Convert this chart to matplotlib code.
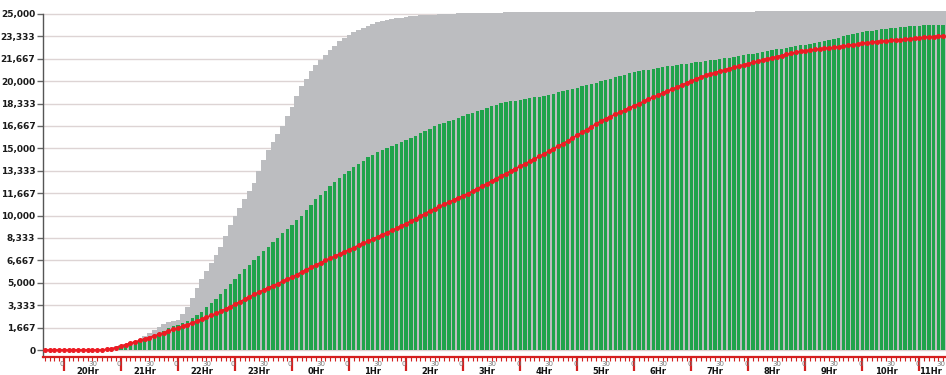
import numpy as np
import matplotlib
matplotlib.use("Agg")
import matplotlib.pyplot as plt

# 5-minute samples starting 19:40, one row per hour
upper_cum = [
    0, 0, 0, 0, 0, 0, 0, 0, 0, 0, 0, 0,
    0, 50, 150, 280, 380, 480, 580, 680, 850, 1050, 1300, 1500,
    1700, 1900, 2050, 2150, 2250, 2700, 3200, 3900, 4600, 5300, 5900, 6500,
    7100, 7700, 8500, 9300, 10000, 10600, 11200, 11800, 12400, 13300, 14100, 14900,
    15500, 16100, 16700, 17400, 18100, 18900, 19650, 20200, 20750, 21200, 21600, 21950,
    22300, 22650, 23000, 23250, 23450, 23650, 23800, 23950, 24100, 24250, 24400, 24480,
    24560, 24620, 24680, 24730, 24780, 24820, 24860, 24890, 24920, 24940, 24960, 24980,
    25000, 25020, 25030, 25040, 25050, 25060, 25070, 25080, 25090, 25100, 25100, 25110,
    25110, 25120, 25120, 25130, 25130, 25130, 25140, 25140, 25140, 25150, 25150, 25150,
    25150, 25150, 25150, 25160, 25160, 25160, 25160, 25160, 25160, 25170, 25170, 25170,
    25170, 25170, 25170, 25170, 25170, 25170, 25170, 25170, 25180, 25180, 25180, 25180,
    25180, 25180, 25180, 25180, 25180, 25180, 25180, 25180, 25180, 25180, 25180, 25180,
    25180, 25180, 25180, 25180, 25180, 25180, 25190, 25190, 25190, 25190, 25190, 25190,
    25190, 25200, 25200, 25200, 25200, 25200, 25200, 25200, 25200, 25200, 25200, 25200,
    25200, 25200, 25200, 25200, 25200, 25200, 25200, 25200, 25200, 25200, 25200, 25200,
    25200, 25200, 25200, 25200, 25200, 25200, 25200, 25200, 25200, 25200,
]

bar_cum = [
    0, 0, 0, 0, 0, 0, 0, 0, 0, 0, 0, 0,
    0, 50, 120, 200, 290, 400, 520, 640, 760, 880, 1000, 1150,
    1300, 1450, 1600, 1750, 1870, 2000, 2150, 2400, 2620, 2840, 3170, 3500,
    3830, 4170, 4550, 4930, 5300, 5650, 6000, 6350, 6700, 7030, 7370, 7700,
    8030, 8350, 8700, 9000, 9330, 9670, 10000, 10400, 10800, 11200, 11520, 11850,
    12180, 12500, 12780, 13060, 13340, 13580, 13830, 14080, 14330, 14520, 14700, 14880,
    15040, 15200, 15350, 15500, 15620, 15780, 15950, 16120, 16300, 16480, 16650, 16780,
    16900, 17020, 17150, 17280, 17400, 17530, 17650, 17770, 17890, 18010, 18130, 18250,
    18380, 18450, 18500, 18560, 18620, 18680, 18740, 18800, 18860, 18930, 19000, 19080,
    19160, 19250, 19340, 19430, 19520, 19610, 19700, 19800, 19900, 20000, 20100, 20190,
    20280, 20380, 20480, 20580, 20680, 20750, 20810, 20870, 20930, 20990, 21050, 21100,
    21150, 21200, 21250, 21300, 21350, 21400, 21450, 21500, 21550, 21600, 21650, 21700,
    21760, 21820, 21880, 21940, 22000, 22060, 22120, 22180, 22240, 22300, 22360, 22420,
    22480, 22540, 22600, 22660, 22720, 22790, 22860, 22930, 23000, 23070, 23150, 23250,
    23350, 23450, 23520, 23580, 23640, 23700, 23760, 23820, 23880, 23920, 23950, 23980,
    24010, 24040, 24070, 24100, 24130, 24150, 24160, 24170, 24180, 24200,
]

line_cum = [
    0, 0, 0, 0, 0, 0, 0, 0, 0, 0, 0, 0,
    0, 40, 100, 180, 280, 390, 500, 600, 710, 820, 930, 1040,
    1160, 1280, 1400, 1530, 1650, 1760, 1880, 2010, 2150, 2290, 2430, 2570,
    2720, 2880, 3050, 3220, 3400, 3580, 3760, 3950, 4130, 4300, 4460, 4620,
    4780, 4940, 5100, 5260, 5430, 5610, 5790, 5970, 6150, 6330, 6500, 6660,
    6820, 6980, 7140, 7300, 7460, 7620, 7780, 7940, 8100, 8260, 8420, 8580,
    8740, 8900, 9060, 9230, 9410, 9590, 9770, 9960, 10150, 10340, 10520, 10680,
    10840, 11000, 11160, 11320, 11480, 11640, 11820, 12000, 12190, 12380, 12570, 12760,
    12950, 13130, 13310, 13490, 13670, 13850, 14030, 14210, 14400, 14590, 14780, 14970,
    15160, 15350, 15560, 15770, 15980, 16190, 16400, 16610, 16820, 17040, 17210, 17370,
    17530, 17690, 17850, 18010, 18170, 18330, 18490, 18650, 18810, 18960, 19110, 19260,
    19410, 19560, 19710, 19860, 20010, 20160, 20310, 20430, 20540, 20640, 20740, 20840,
    20940, 21040, 21130, 21220, 21310, 21400, 21490, 21580, 21670, 21750, 21830, 21910,
    21990, 22070, 22150, 22220, 22280, 22320, 22360, 22400, 22440, 22480, 22510, 22560,
    22610, 22660, 22710, 22760, 22810, 22860, 22900, 22940, 22970, 23000, 23030, 23060,
    23090, 23120, 23160, 23200, 23240, 23270, 23300, 23320, 23340, 23360,
]

hour_labels = ['20Hr', '21Hr', '22Hr', '23Hr', '0Hr', '1Hr', '2Hr', '3Hr',
               '4Hr', '5Hr', '6Hr', '7Hr', '8Hr', '9Hr', '10Hr', '11Hr']
minute_labels = ['0', '30']

start_minute = 40      # series starts at 19:40
step_minutes = 5
y_step = 25000 / 15

n = len(bar_cum)
idx = np.arange(n)
samples_per_hour = 60 // step_minutes
first_hour = (60 - start_minute) // step_minutes
hour_pos = first_hour + samples_per_hour * np.arange(len(hour_labels))

fig = plt.figure(figsize=(9.46, 3.75), dpi=100)
W, H = 946, 375
ax = fig.add_axes([43 / W, 18 / H, (W - 43) / W, (H - 18) / H])

px_per_unit = 336 / 25000
ax.set_ylim(-7 / px_per_unit, 350 / px_per_unit)
ax.set_xlim(-0.4, n - 0.4)
x_right = n - 0.4

ax.bar(idx, upper_cum, width=1.03, color='#bcbdc0', linewidth=0, zorder=2)
ax.bar(idx, bar_cum, width=0.7, color='#1fa34b', linewidth=0, zorder=3)
ax.plot(idx, line_cum, color='#ec1c24', lw=1.3, marker='o', ms=2.6,
        mec='#ec1c24', mfc='#ec1c24', zorder=4, clip_on=False)

# y axis
yticks = np.arange(16) * y_step
ax.set_yticks(yticks)
ax.set_yticklabels([f'{v:,.0f}' for v in yticks])
for lab in ax.get_yticklabels():
    lab.set_fontweight('bold')
ax.tick_params(axis='y', length=4, width=1, color='#666666', pad=1.5,
               labelsize=6.5, labelcolor='#1a1a1a')
ax.yaxis.grid(True, color='#ddd4d4', linewidth=1.0)
ax.set_axisbelow(True)

# x axis: red ruler with hour ticks
ax.set_xticks(hour_pos)
ax.set_xticks(idx, minor=True)
ax.tick_params(axis='x', which='major', length=10, width=1.6, color='#d42020',
               labelbottom=False)
ax.tick_params(axis='x', which='minor', length=3, width=0.8, color='#d42020')

for s in ['top', 'right']:
    ax.spines[s].set_visible(False)
ax.spines['left'].set_color('#555555')
ax.spines['left'].set_linewidth(1.0)
ax.spines['left'].set_bounds(ax.get_ylim()[0], 25000)
ax.spines['bottom'].set_color('#d42020')
ax.spines['bottom'].set_linewidth(1.6)

trans = ax.get_xaxis_transform()
ax_h = H - 18
half = samples_per_hour // 2
for pos, lab in zip(hour_pos, hour_labels):
    ax.text(pos - 0.4, -7.5 / ax_h, minute_labels[0], transform=trans,
            ha='center', va='center', fontsize=5, color='#777777', clip_on=False)
    mx, mha = pos + half, 'center'
    if mx + 0.8 > x_right:
        mx, mha = x_right - 0.2, 'right'
    ax.text(mx, -7.5 / ax_h, minute_labels[1], transform=trans,
            ha=mha, va='center', fontsize=5, color='#777777', clip_on=False)
    lx, ha = pos + half - 1, 'center'
    if lx + 2 > x_right:
        lx, ha = x_right - 0.8, 'right'
    ax.text(lx, -15 / ax_h, lab, transform=trans, ha=ha, va='center',
            fontsize=6, fontweight='bold', color='#111111', clip_on=False)

fig.savefig('out.png', dpi=100)
